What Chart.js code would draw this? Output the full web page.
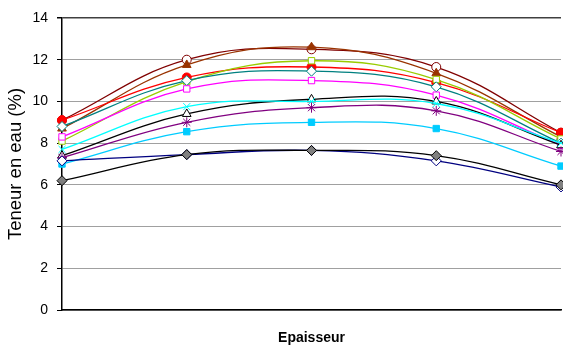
<!DOCTYPE html>
<html>
<head>
<meta charset="utf-8">
<script src="https://cdn.jsdelivr.net/npm/chart.js@4"></script>
<style>
  html, body { margin: 0; padding: 0; background: #fff; }
  #wrap { width: 563px; height: 347px; }
</style>
</head>
<body>
<div id="wrap"><canvas id="myChart" width="563" height="347"></canvas></div>
<script>
const categories = ['1', '2', '3', '4', '5'];
const yTicks = [0, 2, 4, 6, 8, 10, 12, 14];

const darkRedCircle = [9.1, 12.0, 12.5, 11.65, 8.5];
const brownTriangle = [8.7, 11.75, 12.6, 11.35, 8.3];
const redCircle = [9.1, 11.15, 11.65, 10.9, 8.5];
const greenSquare = [8.1, 10.95, 11.95, 11.05, 8.2];
const tealDiamond = [8.8, 11.0, 11.45, 10.7, 8.0];
const pinkSquare = [8.3, 10.6, 11.0, 10.3, 7.9];
const blackTriangle = [7.4, 9.4, 10.1, 10.0, 7.9];
const cyanCross = [7.7, 9.75, 10.0, 9.9, 8.0];
const purpleStar = [7.3, 9.0, 9.7, 9.55, 7.6];
const blueSquare = [7.0, 8.55, 9.0, 8.7, 6.9];
const navyDiamond = [7.15, 7.45, 7.65, 7.15, 5.9];
const grayDiamond = [6.2, 7.45, 7.65, 7.4, 6.0];

function serie(values, line, style, fill, radius) {
  return {
    data: values,
    borderColor: line,
    backgroundColor: fill,
    pointBorderColor: line,
    pointBackgroundColor: fill,
    pointStyle: style,
    pointRadius: radius || 4.5,
    pointBorderWidth: 1,
    borderWidth: 1.3,
    tension: 0.4,
    fill: false,
    clip: false,
  };
}

const whiteBg = {
  id: 'whiteBg',
  beforeDraw(chart) {
    const ctx = chart.ctx;
    ctx.save();
    ctx.fillStyle = '#fff';
    ctx.fillRect(0, 0, chart.width, chart.height);
    ctx.restore();
  },
};

const data = {
  labels: categories,
  datasets: [
    serie(grayDiamond, '#000000', 'rectRot', '#808080', 5),
    serie(navyDiamond, '#000080', 'rectRot', '#ffffff', 5),
    serie(blueSquare, '#00CCFF', 'rect', '#00CCFF'),
    serie(purpleStar, '#800080', 'star', '#800080', 5),
    serie(cyanCross, '#00FFFF', 'crossRot', '#00FFFF', 5),
    serie(blackTriangle, '#000000', 'triangle', '#ffffff', 5),
    serie(pinkSquare, '#FF00FF', 'rect', '#ffffff'),
    serie(tealDiamond, '#008080', 'rectRot', '#ffffff', 5),
    serie(greenSquare, '#99CC00', 'rect', '#ffffff'),
    serie(redCircle, '#FF0000', 'circle', '#FF0000'),
    serie(brownTriangle, '#993300', 'triangle', '#993300', 5),
    serie(darkRedCircle, '#800000', 'circle', '#ffffff'),
  ],
};

const config = {
  type: 'line',
  data: data,
  plugins: [whiteBg],
  options: {
    responsive: false,
    animation: false,
    layout: { autoPadding: false, padding: { top: 18, right: 2, left: 0, bottom: 0 } },
    plugins: { legend: { display: false }, tooltip: { enabled: false } },
    scales: {
      x: {
        offset: false,
        ticks: { display: false },
        grid: { display: false },
        border: { display: true, color: '#000', width: 1.5 },
        title: {
          display: true,
          text: 'Epaisseur',
          color: '#000',
          font: { family: 'Liberation Sans, Arial', size: 14, weight: 'bold' },
          padding: { top: 0, bottom: 0 },
        },
        afterFit(scale) { scale.height = 37; },
      },
      y: {
        min: 0,
        max: 14,
        afterBuildTicks(scale) { scale.ticks = yTicks.map(v => ({ value: v })); },
        ticks: {
          color: '#000',
          padding: 9,
          font: { family: 'Liberation Sans, Arial', size: 14 },
        },
        grid: {
          color: ctx => (ctx.tick && ctx.tick.value === 14 ? '#404040' : '#a0a0a0'),
          lineWidth: ctx => (ctx.tick && ctx.tick.value === 14 ? 1.5 : 1),
          tickColor: '#000',
          tickLength: 5,
        },
        border: { display: true, color: '#000', width: 1.5 },
        title: {
          display: true,
          text: 'Teneur en eau (%)',
          color: '#000',
          font: { family: 'Liberation Sans, Arial', size: 18.5 },
          padding: { top: 5, bottom: 2 },
        },
        afterFit(scale) { scale.width = 62; },
      },
    },
  },
};

const myChart = new Chart(document.getElementById('myChart'), config);
</script>
</body>
</html>
